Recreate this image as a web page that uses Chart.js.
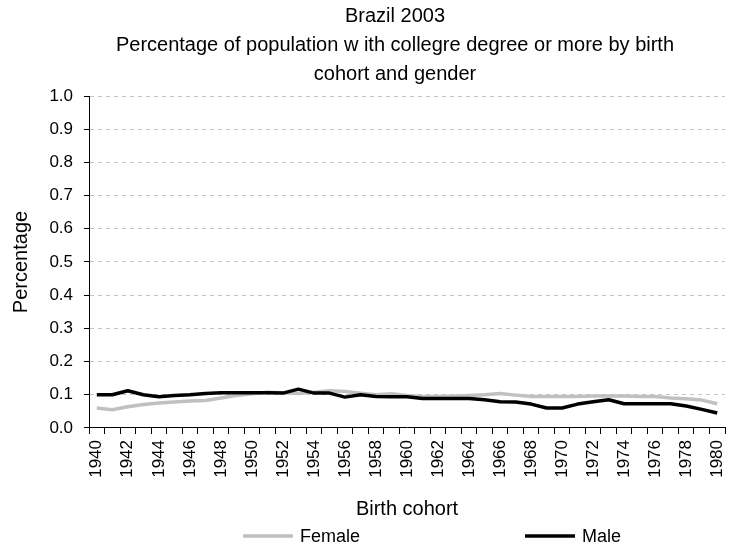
<!DOCTYPE html>
<html>
<head>
<meta charset="utf-8">
<title>Brazil 2003</title>
<script src="https://cdn.jsdelivr.net/npm/chart.js@4.4.1/dist/chart.umd.min.js"></script>
<style>
  html, body { margin: 0; padding: 0; background: #fff; }
  canvas { display: block; }
</style>
</head>
<body>
<canvas id="chart" width="753" height="548"></canvas>
<script>
// Birth cohorts on the category axis
const cohorts = [
  '1940','1941','1942','1943','1944','1945','1946','1947','1948','1949',
  '1950','1951','1952','1953','1954','1955','1956','1957','1958','1959',
  '1960','1961','1962','1963','1964','1965','1966','1967','1968','1969',
  '1970','1971','1972','1973','1974','1975','1976','1977','1978','1979',
  '1980'
];

// Share with a college degree or more, by cohort
const female = [
  0.060, 0.055, 0.064, 0.071, 0.075, 0.078, 0.081, 0.083, 0.090, 0.098,
  0.103, 0.108, 0.106, 0.104, 0.108, 0.112, 0.110, 0.105, 0.100, 0.103,
  0.098, 0.095, 0.095, 0.096, 0.098, 0.100, 0.104, 0.099, 0.095, 0.095,
  0.095, 0.095, 0.096, 0.096, 0.096, 0.095, 0.095, 0.090, 0.088, 0.084,
  0.073
];
const male = [
  0.100, 0.100, 0.112, 0.100, 0.094, 0.098, 0.100, 0.104, 0.106, 0.106,
  0.106, 0.106, 0.105, 0.117, 0.105, 0.105, 0.093, 0.100, 0.095, 0.094,
  0.094, 0.089, 0.089, 0.089, 0.089, 0.085, 0.079, 0.078, 0.072, 0.060,
  0.060, 0.072, 0.079, 0.085, 0.073, 0.073, 0.073, 0.073, 0.066, 0.056,
  0.045
];

const seriesNames = ['Female', 'Male'];
const titleLines = [
  'Brazil 2003',
  'Percentage of population w ith collegre degree or more by birth',
  'cohort and gender'
];

Chart.defaults.font.family = '"Liberation Sans", Arial, sans-serif';
Chart.defaults.font.size = 17;
Chart.defaults.color = '#000';

// Shifts the title block so its lines are centred where wanted
const titleShift = {
  id: 'titleShift',
  afterLayout(chart, args, opts) {
    const t = chart.titleBlock;
    if (t) { t.left = opts.left; t.right = opts.right; }
  }
};

// Legend drawn in a single row under the axis title
const lineLegend = {
  id: 'lineLegend',
  afterDraw(chart, args, opts) {
    const ctx = chart.ctx;
    ctx.save();
    ctx.font = '18px "Liberation Sans", Arial, sans-serif';
    ctx.textBaseline = 'middle';
    ctx.textAlign = 'left';
    chart.data.datasets.forEach((ds, i) => {
      const x = opts.starts[i];
      ctx.strokeStyle = ds.borderColor;
      ctx.lineWidth = ds.borderWidth;
      ctx.beginPath();
      ctx.moveTo(x, opts.y);
      ctx.lineTo(x + opts.lineLength, opts.y);
      ctx.stroke();
      ctx.fillStyle = '#000';
      ctx.fillText(ds.label, x + opts.lineLength + opts.gap, opts.y + 1);
    });
    ctx.restore();
  }
};

new Chart(document.getElementById('chart'), {
  type: 'line',
  data: {
    labels: cohorts,
    datasets: [
      {
        label: seriesNames[0],
        data: female,
        borderColor: '#c0c0c0',
        borderWidth: 3.5,
        pointRadius: 0,
        tension: 0,
        borderJoinStyle: 'round',
        order: 2
      },
      {
        label: seriesNames[1],
        data: male,
        borderColor: '#000000',
        borderWidth: 3.5,
        pointRadius: 0,
        tension: 0,
        borderJoinStyle: 'round',
        order: 1
      }
    ]
  },
  options: {
    responsive: false,
    animation: false,
    layout: { padding: { left: 0, right: 28, top: 0, bottom: 24 } },
    plugins: {
      legend: { display: false },
      tooltip: { enabled: false },
      title: {
        display: true,
        text: titleLines,
        color: '#000',
        font: { size: 20, weight: 'normal', lineHeight: 1.45 },
        padding: { top: 1.5, bottom: 7.5 }
      },
      titleShift: { left: 37, right: 753 },
      lineLegend: { y: 536, starts: [243, 525], lineLength: 50, gap: 7 }
    },
    scales: {
      x: {
        type: 'category',
        offset: true,
        grid: {
          offset: true,
          drawOnChartArea: false,
          tickLength: 6,
          tickColor: '#000',
          tickWidth: 1
        },
        border: { color: '#000', width: 1 },
        ticks: {
          autoSkip: false,
          maxRotation: 90,
          minRotation: 90,
          padding: 6,
          color: '#000',
          font: { size: 17 },
          callback: function (value, index) {
            return index % 2 === 0 ? this.getLabelForValue(value) : '';
          }
        },
        title: {
          display: true,
          text: 'Birth cohort',
          color: '#000',
          font: { size: 20, lineHeight: 1.2 },
          padding: { top: 13.2, bottom: 3 }
        }
      },
      y: {
        min: 0,
        max: 1,
        grid: {
          color: (ctx) => (ctx.tick && ctx.tick.value === 0 ? 'rgba(0,0,0,0)' : '#c4c4c4'),
          lineWidth: 1,
          tickLength: 5,
          tickColor: '#000',
          tickWidth: 1
        },
        border: { color: '#000', width: 1, dash: [4, 4] },
        ticks: {
          stepSize: 0.1,
          padding: 11,
          color: '#000',
          font: { size: 17 },
          callback: (v) => v.toFixed(1)
        },
        title: {
          display: true,
          text: 'Percentage',
          color: '#000',
          font: { size: 20, lineHeight: 1.2 },
          padding: { top: 9, bottom: 5.4 }
        }
      }
    }
  },
  plugins: [titleShift, lineLegend]
});
</script>
</body>
</html>
